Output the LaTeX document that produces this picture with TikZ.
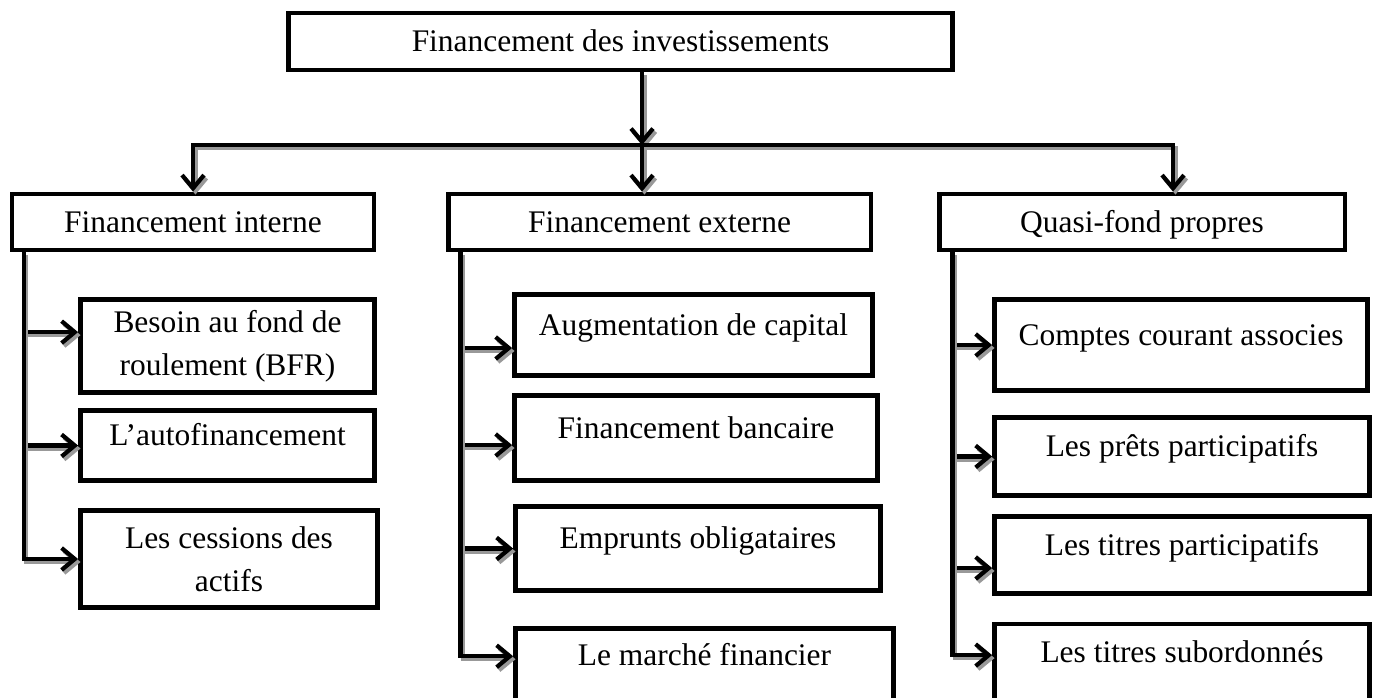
\documentclass[tikz,border=0pt]{standalone}
\usepackage{fontspec}
\setmainfont{Liberation Serif}
\usetikzlibrary{arrows.meta}
\tikzstyle{box} = [draw, line width=2.8pt, align=center, inner sep=2pt, font=\fontsize{17.9}{24.4}\selectfont]
\tikzstyle{head} = [box, text height=12.5pt, text depth=1pt]
\tikzstyle{item} = [box, text height=12pt, text depth=12pt]
\tikzstyle{line} = [line width=2.4pt, line join=miter, preaction={draw=black!40, line width=2.4pt, transform canvas={xshift=1.4pt,yshift=-1.7pt}}]
\tikzstyle{arrow} = [line, ->, >={Straight Barb[length=7.5pt,width=12.5pt]}]

\begin{document}
\begin{tikzpicture}[x=0.02cm, y=-0.02cm]
\useasboundingbox (0,0) rectangle (1376,697);
%top
\node[head, minimum width=13.3cm, minimum height=1.14cm] (top) at (620.5,41.5) {Financement des investissements};
\node[head, minimum width=7.24cm, minimum height=1.12cm] (interne) at (193,222) {Financement interne};
\node[head, minimum width=8.46cm, minimum height=1.12cm] (externe) at (659.5,222) {Financement externe};
\node[head, minimum width=8.12cm, minimum height=1.12cm] (quasi) at (1142,222) {Quasi-fond propres};
%left column
\node[box, minimum width=5.88cm, minimum height=1.86cm] (besoin) at (227.5,346) {Besoin au fond de\\roulement (BFR)};
\node[item, minimum width=5.88cm, minimum height=1.4cm] (autofin) at (227.5,445.5) {L’autofinancement};
\node[box, minimum width=5.94cm, minimum height=1.94cm] (cessions) at (229,559) {Les cessions des\\actifs};
%middle column
\node[item, minimum width=7.16cm, minimum height=1.62cm] (augment) at (693.5,335) {Augmentation de capital};
\node[item, minimum width=7.26cm, minimum height=1.7cm] (bancaire) at (696,438) {Financement bancaire};
\node[item, minimum width=7.3cm, minimum height=1.68cm] (emprunts) at (698,548.5) {Emprunts obligataires};
\node[item, minimum width=7.56cm, minimum height=1.47cm] (marche) at (704.5,665) {Le marché financier};
%right column
\node[item, minimum width=7.46cm, minimum height=1.82cm] (comptes) at (1181,345) {Comptes courant associes};
\node[item, minimum width=7.5cm, minimum height=1.56cm] (prets) at (1182,456.5) {Les prêts participatifs};
\node[item, minimum width=7.5cm, minimum height=1.54cm] (titres) at (1182,555) {Les titres participatifs};
\node[item, minimum width=7.5cm, minimum height=1.54cm] (subord) at (1182,662.5) {Les titres subordonnés};

%bus
\coordinate (bus) at (642,145);
\coordinate (busR) at (1173,145);
\draw[arrow] (top.south -| bus) -- (bus);
\draw[arrow] (bus) -| (interne.north);
\draw[arrow] (bus) -| (busR |- quasi.north);
\draw[arrow] (bus) -- (bus |- externe.north);

%trunks
\coordinate (ti) at ([xshift=8pt]interne.south west);
\coordinate (te) at ([xshift=8.5pt]externe.south west);
\coordinate (tq) at ([xshift=9pt]quasi.south west);

\coordinate (b1) at ([yshift=7.9pt]besoin.west);
\draw[arrow] (ti |- b1) -- (b1);
\draw[arrow] (ti |- autofin.west) -- (autofin.west);
\draw[arrow] (ti) |- (cessions.west);

\coordinate (a1) at ([yshift=-7.4pt]augment.west);
\coordinate (a2) at ([yshift=-4pt]bancaire.west);
\coordinate (a4) at ([yshift=5pt]marche.west);
\draw[arrow] (te |- a1) -- (a1);
\draw[arrow] (te |- a2) -- (a2);
\draw[arrow] (te |- emprunts.west) -- (emprunts.west);
\draw[arrow] (te) |- (a4);

\coordinate (q3) at ([yshift=-7.4pt]titres.west);
\coordinate (q4) at ([yshift=4.2pt]subord.west);
\draw[arrow] (tq |- comptes.west) -- (comptes.west);
\draw[arrow] (tq |- prets.west) -- (prets.west);
\draw[arrow] (tq |- q3) -- (q3);
\draw[arrow] (tq) |- (q4);
\end{tikzpicture}
\end{document}
